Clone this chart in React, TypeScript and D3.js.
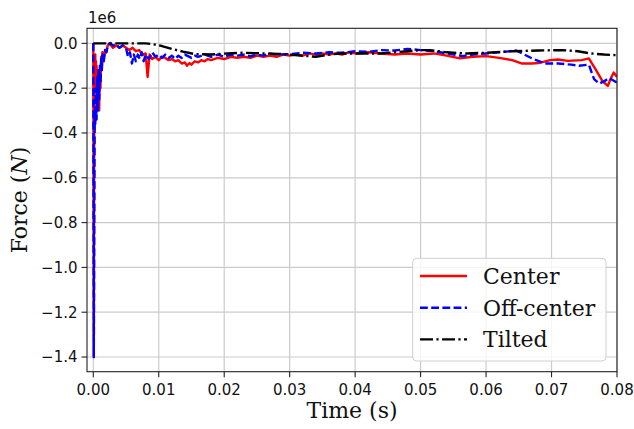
import React from "react";
import * as d3 from "d3";

// ---- data (time in s, force in units of 1e6 N) ----
const centerT = [0, 0.00008, 0.00013, 0.0002, 0.00025, 0.0003, 0.00035, 0.0004, 0.00045, 0.0005, 0.0006, 0.0007, 0.00075, 0.0008, 0.0009, 0.001, 0.0011, 0.0012, 0.0013, 0.0014, 0.0016, 0.0018, 0.002, 0.0022, 0.0025, 0.003, 0.0035, 0.004, 0.0045, 0.005, 0.0055, 0.006, 0.0065, 0.007, 0.0075, 0.008, 0.0083, 0.0086, 0.009, 0.0095, 0.01, 0.0105, 0.011, 0.0115, 0.012, 0.0125, 0.013, 0.0135, 0.014, 0.0143, 0.0147, 0.015, 0.0155, 0.016, 0.0165, 0.017, 0.0175, 0.018, 0.019, 0.02, 0.021, 0.022, 0.023, 0.024, 0.025, 0.026, 0.027, 0.028, 0.029, 0.03, 0.031, 0.032, 0.033, 0.034, 0.035, 0.036, 0.037, 0.038, 0.039, 0.04, 0.042, 0.044, 0.046, 0.048, 0.05, 0.052, 0.054, 0.056, 0.058, 0.06, 0.062, 0.064, 0.0655, 0.067, 0.068, 0.0698, 0.071, 0.0725, 0.0746, 0.0757, 0.0768, 0.0778, 0.0786, 0.079, 0.0795, 0.08];
const centerF = [0, -1.4, -0.5, -0.1, -0.22, -0.05, -0.15, -0.08, -0.2, -0.1, -0.22, -0.12, -0.28, -0.15, -0.3, -0.12, -0.2, -0.06, -0.12, -0.04, -0.07, -0.03, -0.04, -0.01, 0, -0.02, -0.01, -0.02, -0.01, -0.02, -0.03, -0.02, -0.035, -0.03, -0.05, -0.045, -0.15, -0.05, -0.07, -0.06, -0.075, -0.06, -0.065, -0.075, -0.07, -0.08, -0.075, -0.09, -0.085, -0.1, -0.088, -0.095, -0.08, -0.085, -0.075, -0.08, -0.07, -0.075, -0.065, -0.07, -0.06, -0.065, -0.06, -0.065, -0.055, -0.06, -0.055, -0.06, -0.05, -0.055, -0.05, -0.055, -0.045, -0.05, -0.045, -0.05, -0.045, -0.05, -0.04, -0.045, -0.04, -0.045, -0.05, -0.045, -0.05, -0.045, -0.055, -0.067, -0.06, -0.057, -0.065, -0.075, -0.09, -0.09, -0.088, -0.075, -0.072, -0.078, -0.075, -0.067, -0.12, -0.17, -0.19, -0.16, -0.13, -0.15];

const offT = [0, 0.00008, 0.00014, 0.0002, 0.00025, 0.0003, 0.0004, 0.0005, 0.0006, 0.0007, 0.0008, 0.0009, 0.001, 0.0011, 0.0012, 0.0013, 0.0014, 0.0016, 0.0018, 0.002, 0.0022, 0.0025, 0.003, 0.0035, 0.004, 0.0045, 0.005, 0.0053, 0.0056, 0.0059, 0.0062, 0.0065, 0.0068, 0.0071, 0.0074, 0.0077, 0.008, 0.0085, 0.009, 0.0095, 0.01, 0.0105, 0.011, 0.0115, 0.012, 0.0125, 0.013, 0.0135, 0.014, 0.015, 0.0155, 0.016, 0.017, 0.018, 0.019, 0.02, 0.021, 0.022, 0.023, 0.024, 0.025, 0.026, 0.027, 0.028, 0.03, 0.032, 0.034, 0.036, 0.038, 0.04, 0.042, 0.044, 0.046, 0.048, 0.05, 0.052, 0.054, 0.0564, 0.058, 0.06, 0.062, 0.0646, 0.067, 0.069, 0.071, 0.073, 0.0742, 0.0757, 0.0765, 0.0773, 0.078, 0.0788, 0.08];
const offF = [0, -1.4, -0.9, -0.4, -0.3, -0.36, -0.2, -0.34, -0.15, -0.3, -0.12, -0.25, -0.1, -0.18, -0.07, -0.12, -0.05, -0.08, -0.03, -0.04, -0.01, 0, -0.01, -0.005, -0.02, -0.01, -0.02, -0.06, -0.04, -0.09, -0.05, -0.08, -0.05, -0.07, -0.04, -0.08, -0.05, -0.07, -0.04, -0.06, -0.05, -0.065, -0.05, -0.065, -0.055, -0.07, -0.055, -0.065, -0.05, -0.065, -0.055, -0.06, -0.05, -0.06, -0.05, -0.06, -0.05, -0.055, -0.05, -0.058, -0.05, -0.055, -0.045, -0.05, -0.048, -0.042, -0.045, -0.04, -0.042, -0.035, -0.038, -0.03, -0.032, -0.025, -0.03, -0.035, -0.045, -0.057, -0.05, -0.045, -0.04, -0.032, -0.067, -0.09, -0.09, -0.095, -0.1, -0.095, -0.16, -0.18, -0.17, -0.155, -0.175];

const tiltT = [0, 0.004, 0.006, 0.008, 0.009, 0.0105, 0.012, 0.0137, 0.0155, 0.018, 0.0205, 0.0227, 0.026, 0.029, 0.032, 0.034, 0.036, 0.038, 0.04, 0.042, 0.044, 0.046, 0.048, 0.05, 0.0514, 0.054, 0.057, 0.06, 0.064, 0.068, 0.0716, 0.074, 0.076, 0.078, 0.08];
const tiltF = [0, 0, 0, 0, -0.003, -0.012, -0.025, -0.037, -0.048, -0.05, -0.045, -0.042, -0.045, -0.048, -0.055, -0.06, -0.05, -0.045, -0.045, -0.045, -0.045, -0.04, -0.035, -0.03, -0.03, -0.04, -0.045, -0.042, -0.035, -0.032, -0.03, -0.035, -0.045, -0.05, -0.053];

const xTicks = [0, 0.01, 0.02, 0.03, 0.04, 0.05, 0.06, 0.07, 0.08];
const yTicks = [0, -0.2, -0.4, -0.6, -0.8, -1.0, -1.2, -1.4];
const seriesNames = ["Center", "Off-center", "Tilted"];

export default function App() {
  const L = 87, R = 617, T = 28.3, B = 371.7;
  const x = d3.scaleLinear().domain([-0.00096, 0.08]).range([L, R]);
  const y = d3.scaleLinear().domain([-1.4655, 0.0672]).range([B, T]);

  const mk = (ts: number[], fs: number[]) =>
    d3.line<number>().x((_, i) => x(ts[i])).y((d) => y(d))(fs) || "";

  const styles = [
    { color: "#ff0000", dash: "none" },
    { color: "#0000ff", dash: "7.8 3.4" },
    { color: "#000000", dash: "13 3.4 2.2 3.4" },
  ];
  const paths = [mk(centerT, centerF), mk(offT, offF), mk(tiltT, tiltF)];

  const fmtY = (v: number) => (v < 0 ? "\u2212" : "") + Math.abs(v).toFixed(1);
  const sans = "DejaVu Sans, sans-serif";
  const serif = "DejaVu Serif, serif";

  return (
    <div style={{ position: "fixed", left: 0, top: 0 }}>
      <svg width={634} height={429} style={{ display: "block", background: "#fff" }}>
        <defs>
          <clipPath id="plotclip">
            <rect x={L} y={T} width={R - L} height={B - T} />
          </clipPath>
        </defs>
        {xTicks.map((t) => (
          <line key={"gx" + t} x1={x(t)} x2={x(t)} y1={T} y2={B} stroke="#cccccc" strokeWidth={1.2} />
        ))}
        {yTicks.map((t) => (
          <line key={"gy" + t} x1={L} x2={R} y1={y(t)} y2={y(t)} stroke="#cccccc" strokeWidth={1.2} />
        ))}
        <g clipPath="url(#plotclip)">
          {paths.map((p, i) => (
            <path key={i} d={p} fill="none" stroke={styles[i].color} strokeWidth={2.4}
              strokeDasharray={styles[i].dash} strokeLinejoin="round" />
          ))}
        </g>
        <rect x={L} y={T} width={R - L} height={B - T} fill="none" stroke="#222" strokeWidth={1.1} />
        {xTicks.map((t) => (
          <g key={"xt" + t}>
            <line x1={x(t)} x2={x(t)} y1={B} y2={B + 5.5} stroke="#222" strokeWidth={1.1} />
            <text x={x(t)} y={395} textAnchor="middle" fontFamily={sans} fontSize={15} fill="#111">
              {t.toFixed(2)}
            </text>
          </g>
        ))}
        {yTicks.map((t) => (
          <g key={"yt" + t}>
            <line x1={L - 5.5} x2={L} y1={y(t)} y2={y(t)} stroke="#222" strokeWidth={1.1} />
            <text x={77.5} y={y(t)} dy="0.36em" textAnchor="end" fontFamily={sans} fontSize={15} fill="#111">
              {fmtY(t)}
            </text>
          </g>
        ))}
        <text x={88} y={23} fontFamily={sans} fontSize={15} fill="#111">1e6</text>
        <text x={352} y={418} textAnchor="middle" fontFamily={serif} fontSize={22} fill="#111">Time (s)</text>
        <text transform={`translate(27,${(T + B) / 2}) rotate(-90)`} textAnchor="middle" fontFamily={serif} fontSize={22} fill="#111">
          Force (<tspan fontStyle="italic">N</tspan>)
        </text>
        <g>
          <rect x={412.7} y={258.3} width={193.3} height={102.7} rx={4} ry={4}
            fill="#ffffff" fillOpacity={0.8} stroke="#d0d0d0" strokeWidth={1} />
          {seriesNames.map((n, i) => {
            const ly = 276 + i * 31.7;
            return (
              <g key={n}>
                <line x1={420} x2={467} y1={ly} y2={ly} stroke={styles[i].color} strokeWidth={2.4}
                  strokeDasharray={styles[i].dash} />
                <text x={483} y={ly} dy="0.36em" fontFamily={serif} fontSize={22} fill="#111">{n}</text>
              </g>
            );
          })}
        </g>
      </svg>
    </div>
  );
}
